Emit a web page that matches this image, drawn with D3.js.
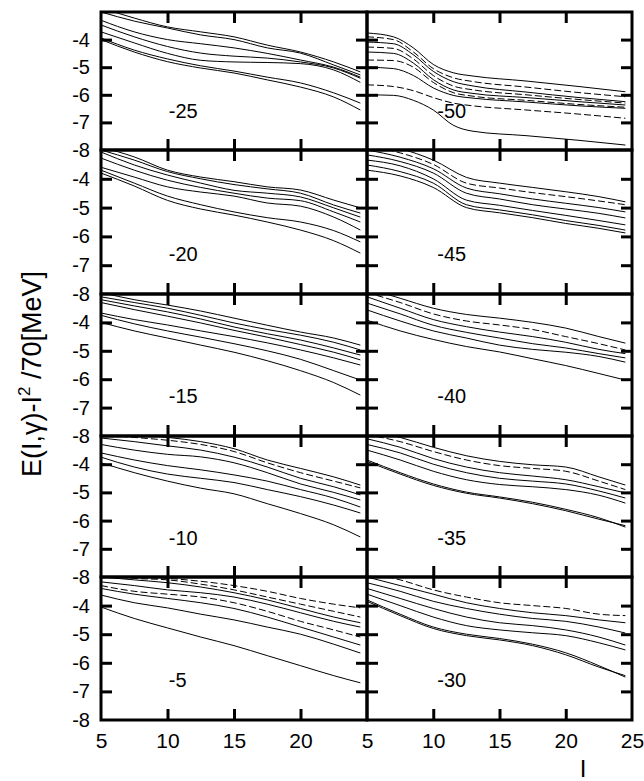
<!DOCTYPE html>
<html>
<head>
<meta charset="utf-8">
<script src="https://cdn.jsdelivr.net/npm/d3@7"></script>
<style>
body { margin: 0; background: #fff; }
text { font-family: "Liberation Sans", Arial, sans-serif; fill: #000; }
</style>
</head>
<body>
<svg id="chart" width="644" height="781"></svg>
<script>
// x grid for the curves (I), and a denser early grid for the -50 panel
const xGrid = [5, 7.5, 10, 12.5, 15, 17.5, 20, 22.5, 24.5];
const xGridSteep = [5, 7, 8.5, 10, 11.5, 13, 17, 21, 24.5];
const yTicks = [-4, -5, -6, -7, -8];
const xTicks = [5, 10, 15, 20, 25];

const leftGammas = [-25, -20, -15, -10, -5];
const rightGammas = [-50, -45, -40, -35, -30];

// E(I,gamma)-I^2/70 curves, one array per band
const curvesM25 = [
  [-2.85, -3.22, -3.54, -3.72, -3.9, -4.2, -4.45, -4.81, -5.17],
  [-3.0, -3.33, -3.58, -3.83, -4.0, -4.3, -4.49, -4.92, -5.28],
  [-3.3, -3.72, -4.0, -4.15, -4.3, -4.5, -4.74, -5.0, -5.36],
  [-3.47, -3.9, -4.25, -4.49, -4.6, -4.67, -4.81, -5.03, -5.4],
  [-3.72, -4.12, -4.5, -4.75, -4.81, -4.83, -4.87, -5.1, -5.55],
  [-3.94, -4.38, -4.7, -4.95, -5.14, -5.36, -5.57, -5.93, -6.3],
  [-4.0, -4.45, -4.8, -5.03, -5.21, -5.46, -5.72, -6.08, -6.55]
];
const dashM25 = [0, 0, 0, 0, 0, 0, 0];

const curvesM20 = [
  [-2.9, -3.24, -3.7, -3.94, -4.1, -4.28, -4.39, -4.74, -5.01],
  [-3.0, -3.35, -3.75, -4.0, -4.2, -4.35, -4.5, -4.91, -5.19],
  [-3.07, -3.52, -3.87, -4.15, -4.4, -4.5, -4.63, -5.01, -5.33],
  [-3.28, -3.7, -4.05, -4.3, -4.5, -4.67, -4.76, -5.15, -5.5],
  [-3.6, -3.94, -4.28, -4.46, -4.6, -4.84, -4.95, -5.33, -5.78],
  [-3.7, -4.15, -4.6, -4.9, -5.15, -5.35, -5.5, -5.8, -6.19],
  [-3.8, -4.25, -4.75, -5.05, -5.26, -5.5, -5.78, -6.15, -6.58]
];
const dashM20 = [0, 0, 0, 0, 0, 0, 0];

const curvesM15 = [
  [-2.95, -3.2, -3.39, -3.6, -3.85, -4.1, -4.34, -4.55, -4.8],
  [-3.1, -3.3, -3.5, -3.75, -4.02, -4.25, -4.45, -4.7, -4.97],
  [-3.2, -3.42, -3.63, -3.88, -4.16, -4.4, -4.62, -4.9, -5.15],
  [-3.3, -3.55, -3.78, -4.02, -4.28, -4.52, -4.78, -5.05, -5.32],
  [-3.67, -3.9, -4.09, -4.3, -4.5, -4.72, -4.97, -5.25, -5.5],
  [-3.75, -4.05, -4.3, -4.52, -4.75, -5.0, -5.3, -5.7, -6.03],
  [-4.0, -4.3, -4.55, -4.8, -5.05, -5.35, -5.7, -6.12, -6.56]
];
const dashM15 = [0, 0, 0, 0, 0, 0, 0];

const curvesM10 = [
  [-2.85, -2.95, -3.05, -3.2, -3.45, -3.85, -4.15, -4.45, -4.74],
  [-2.95, -3.05, -3.15, -3.3, -3.55, -3.95, -4.3, -4.6, -4.84],
  [-3.07, -3.2, -3.35, -3.5, -3.75, -4.1, -4.5, -4.8, -5.09],
  [-3.3, -3.5, -3.65, -3.74, -3.95, -4.3, -4.7, -5.0, -5.27],
  [-3.6, -3.85, -4.05, -4.2, -4.38, -4.6, -4.9, -5.2, -5.52],
  [-3.75, -4.1, -4.35, -4.5, -4.65, -4.9, -5.15, -5.45, -5.73],
  [-3.95, -4.3, -4.6, -4.85, -5.05, -5.4, -5.75, -6.15, -6.58]
];
const dashM10 = [0, 1, 0, 0, 0, 0, 0];

const curvesM5 = [
  [-2.9, -3.0, -3.05, -3.15, -3.3, -3.5, -3.75, -3.95, -4.08],
  [-2.95, -3.05, -3.1, -3.25, -3.45, -3.7, -3.95, -4.2, -4.4],
  [-3.0, -3.1, -3.2, -3.35, -3.55, -3.8, -4.1, -4.4, -4.6],
  [-3.17, -3.3, -3.45, -3.55, -3.7, -3.95, -4.25, -4.55, -4.75],
  [-3.3, -3.5, -3.6, -3.7, -3.9, -4.2, -4.55, -4.85, -5.1],
  [-3.4, -3.6, -3.75, -3.9, -4.1, -4.4, -4.75, -5.1, -5.38],
  [-3.63, -3.9, -4.08, -4.3, -4.5, -4.75, -5.0, -5.35, -5.66],
  [-4.05, -4.45, -4.78, -5.1, -5.4, -5.75, -6.1, -6.45, -6.7]
];
const dashM5 = [1, 1, 0, 0, 1, 0, 0, 0];

const curvesM50 = [
  [-3.76, -3.9, -4.3, -4.9, -5.2, -5.32, -5.5, -5.7, -5.89],
  [-3.9, -4.0, -4.45, -5.05, -5.38, -5.52, -5.72, -5.92, -6.07],
  [-4.09, -4.15, -4.55, -5.15, -5.52, -5.68, -5.9, -6.1, -6.25],
  [-4.27, -4.32, -4.7, -5.3, -5.68, -5.82, -6.0, -6.17, -6.3],
  [-4.45, -4.5, -4.85, -5.45, -5.82, -5.95, -6.1, -6.25, -6.37],
  [-4.74, -4.76, -5.0, -5.55, -5.92, -6.05, -6.2, -6.35, -6.45],
  [-5.0, -5.05, -5.3, -5.75, -6.02, -6.12, -6.26, -6.4, -6.49],
  [-5.64, -5.7, -5.85, -6.1, -6.3, -6.4, -6.55, -6.7, -6.85],
  [-6.0, -6.02, -6.2, -6.55, -7.1, -7.32, -7.48, -7.65, -7.82]
];
const dashM50 = [0, 1, 0, 1, 0, 1, 0, 1, 0];

const curvesM45 = [
  [-2.7, -2.95, -3.35, -3.95, -4.15, -4.3, -4.45, -4.62, -4.8],
  [-2.85, -3.1, -3.5, -4.15, -4.32, -4.48, -4.62, -4.77, -4.9],
  [-3.0, -3.25, -3.65, -4.32, -4.52, -4.7, -4.85, -5.0, -5.15],
  [-3.17, -3.4, -3.8, -4.5, -4.7, -4.9, -5.05, -5.2, -5.36],
  [-3.35, -3.55, -4.0, -4.74, -4.92, -5.1, -5.27, -5.45, -5.6],
  [-3.52, -3.75, -4.15, -4.9, -5.08, -5.25, -5.45, -5.62, -5.78],
  [-3.7, -3.9, -4.3, -5.0, -5.18, -5.35, -5.55, -5.72, -5.88]
];
const dashM45 = [0, 1, 0, 0, 0, 0, 0];

const curvesM40 = [
  [-2.8, -3.15, -3.5, -3.72, -3.85, -4.0, -4.2, -4.5, -4.73],
  [-2.95, -3.3, -3.7, -3.95, -4.09, -4.25, -4.5, -4.75, -4.97],
  [-3.1, -3.5, -3.9, -4.15, -4.34, -4.5, -4.7, -4.95, -5.1],
  [-3.32, -3.7, -4.1, -4.35, -4.55, -4.75, -4.9, -5.1, -5.25],
  [-3.56, -3.95, -4.3, -4.55, -4.8, -4.95, -5.05, -5.2, -5.4],
  [-3.92, -4.3, -4.6, -4.85, -5.04, -5.28, -5.52, -5.8, -6.03]
];
const dashM40 = [0, 1, 0, 0, 0, 0];

const curvesM35 = [
  [-2.8, -3.05, -3.4, -3.7, -3.9, -4.02, -4.1, -4.45, -4.74],
  [-2.95, -3.2, -3.55, -3.85, -4.05, -4.15, -4.25, -4.6, -4.9],
  [-3.1, -3.4, -3.8, -4.1, -4.3, -4.42, -4.55, -4.8, -5.02],
  [-3.3, -3.6, -4.0, -4.3, -4.5, -4.6, -4.7, -4.95, -5.2],
  [-3.5, -3.85, -4.25, -4.55, -4.72, -4.8, -4.9, -5.1, -5.38],
  [-3.85, -4.3, -4.7, -4.99, -5.16, -5.35, -5.6, -5.9, -6.23],
  [-3.9, -4.35, -4.75, -5.03, -5.2, -5.4, -5.65, -5.95, -6.18]
];
const dashM35 = [0, 1, 0, 0, 0, 0, 0];

const curvesM30 = [
  [-2.85, -3.1, -3.45, -3.7, -3.9, -4.0, -4.1, -4.3, -4.35],
  [-3.0, -3.3, -3.6, -3.9, -4.1, -4.25, -4.35, -4.5, -4.6],
  [-3.2, -3.5, -3.85, -4.1, -4.3, -4.45, -4.55, -4.75, -4.96],
  [-3.4, -3.75, -4.1, -4.4, -4.6, -4.7, -4.85, -5.1, -5.38],
  [-3.6, -4.0, -4.4, -4.7, -4.85, -4.95, -5.05, -5.3, -5.55],
  [-3.8, -4.3, -4.75, -5.0, -5.15, -5.35, -5.65, -6.1, -6.5],
  [-3.85, -4.35, -4.8, -5.05, -5.2, -5.4, -5.72, -6.15, -6.45]
];
const dashM30 = [1, 0, 0, 0, 0, 0, 0];

const panelData = {
  "-25": { grid: xGrid, curves: curvesM25, dash: dashM25 },
  "-20": { grid: xGrid, curves: curvesM20, dash: dashM20 },
  "-15": { grid: xGrid, curves: curvesM15, dash: dashM15 },
  "-10": { grid: xGrid, curves: curvesM10, dash: dashM10 },
  "-5":  { grid: xGrid, curves: curvesM5,  dash: dashM5 },
  "-50": { grid: xGridSteep, curves: curvesM50, dash: dashM50 },
  "-45": { grid: xGrid, curves: curvesM45, dash: dashM45 },
  "-40": { grid: xGrid, curves: curvesM40, dash: dashM40 },
  "-35": { grid: xGrid, curves: curvesM35, dash: dashM35 },
  "-30": { grid: xGrid, curves: curvesM30, dash: dashM30 }
};

//Layout of the 2 x 5 grid of panels (pixel edges)
const colEdges = [101, 367, 632];
const rowEdges = [12, 150, 294, 436, 577, 720];

const svg = d3.select("#chart");

function drawPanel(gamma, col, row) {
    const p = panelData[String(gamma)];
    const x = d3.scaleLinear().domain([5, 25]).range([colEdges[col], colEdges[col + 1]]);
    const y = d3.scaleLinear().domain([-8, -3]).range([rowEdges[row + 1], rowEdges[row]]);
    const id = `clip${col}${row}`;

    svg.append("clipPath").attr("id", id)
        .append("rect")
            .attr("x", x(5)).attr("y", y(-3))
            .attr("width", x(25) - x(5)).attr("height", y(-8) - y(-3));

    const line = d3.line()
        .x((d, i) => x(p.grid[i]))
        .y(d => y(d))
        .curve(d3.curveMonotoneX);

    svg.append("g")
        .attr("clip-path", `url(#${id})`)
        .selectAll("path")
        .data(p.curves)
        .enter().append("path")
            .attr("d", line)
            .attr("fill", "none")
            .attr("stroke", "#000")
            .attr("stroke-width", 1)
            .attr("stroke-dasharray", (d, i) => p.dash[i] ? "7,3" : null);

    //Inward ticks on all four sides
    const tickLen = 11;
    const inner = [
        [d3.axisBottom(x).tickValues([10, 15, 20]), `translate(0,${y(-3)})`],
        [d3.axisTop(x).tickValues([10, 15, 20]), `translate(0,${y(-8)})`],
        [d3.axisRight(y).tickValues([-4, -5, -6, -7]), `translate(${x(5)},0)`],
        [d3.axisLeft(y).tickValues([-4, -5, -6, -7]), `translate(${x(25)},0)`]
    ];
    inner.forEach(([ax, tr]) => {
        const g = svg.append("g").attr("transform", tr)
            .call(ax.tickSize(tickLen).tickFormat(""));
        g.select(".domain").remove();
        g.selectAll("line").attr("stroke", "#000").attr("stroke-width", 3);
    });

    svg.append("rect")
        .attr("x", x(5)).attr("y", y(-3))
        .attr("width", x(25) - x(5)).attr("height", y(-8) - y(-3))
        .attr("fill", "none").attr("stroke", "#000").attr("stroke-width", 3);

    //Tick labels
    if (col === 0) {
        const gy = svg.append("g").attr("transform", `translate(${x(5)},0)`)
            .call(d3.axisLeft(y).tickValues(yTicks).tickSize(0).tickPadding(11)
                .tickFormat(d => d3.format("d")(d).replace("\u2212", "-")));
        gy.select(".domain").remove();
        gy.selectAll("text").attr("font-size", 20);
    }
    if (row === 4) {
        const vals = col === 0 ? xTicks.filter(v => v !== 25) : xTicks;
        const gx = svg.append("g").attr("transform", `translate(0,${y(-8)})`)
            .call(d3.axisBottom(x).tickValues(vals).tickSize(0).tickPadding(13));
        gx.select(".domain").remove();
        gx.selectAll("text").attr("font-size", 21);
    }

    svg.append("text")
        .attr("x", x(col === 0 ? 10.1 : 10.3))
        .attr("y", y(-6.6))
        .attr("dy", "0.35em")
        .attr("font-size", 20)
        .text(String(gamma));
}

leftGammas.forEach((g, r) => drawPanel(g, 0, r));
rightGammas.forEach((g, r) => drawPanel(g, 1, r));

//Axis titles
const yTitle = svg.append("text")
    .attr("transform", "translate(41,374) rotate(-90)")
    .attr("text-anchor", "middle")
    .attr("font-size", 27);
yTitle.append("tspan").text("E(I,\u03b3)-I");
yTitle.append("tspan").attr("font-size", 17).attr("dy", -11).text("2");
yTitle.append("tspan").attr("dy", 11).text(" /70[MeV]");

svg.append("text")
    .attr("x", 583).attr("y", 777)
    .attr("text-anchor", "middle")
    .attr("font-size", 24)
    .text("I");
</script>
</body>
</html>
